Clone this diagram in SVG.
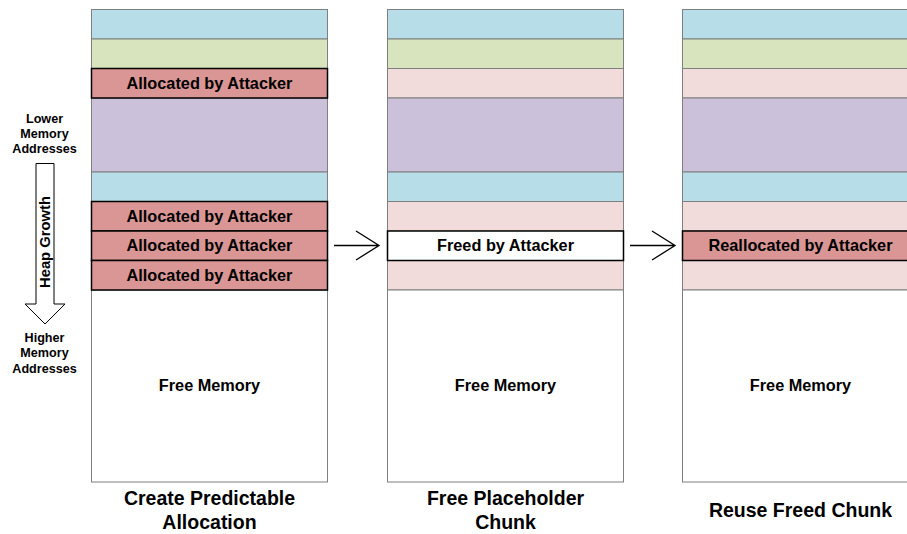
<svg xmlns="http://www.w3.org/2000/svg" width="907" height="534" viewBox="0 0 907 534">
<style>
text{font-family:"Liberation Sans",Arial,sans-serif;font-weight:bold;fill:#000;text-anchor:middle}
.c{stroke:#7f7f7f;stroke-width:1}
.a{stroke:#000;stroke-width:1.5}
.bl{fill:#b7dde8}.gr{fill:#d7e4bd}.rd{fill:#d99694}.pu{fill:#ccc1da}.pk{fill:#f2dcdb}.wh{fill:#fff}
.lbl{font-size:16.3px}
.ttl{font-size:19.5px}
.side{font-size:12.6px}
.hg{font-size:14.8px}
.conn{fill:none;stroke:#000;stroke-width:1.3}
</style>
<rect width="907" height="534" fill="#fff"/>
<g id="col1">
<rect class="c bl" x="91.5" y="9.5" width="236" height="29.5"/>
<rect class="c gr" x="91.5" y="39" width="236" height="29.5"/>
<rect class="c pu" x="91.5" y="98" width="236" height="74"/>
<rect class="c bl" x="91.5" y="172" width="236" height="29.5"/>
<rect class="c wh" x="91.5" y="290" width="236" height="192"/>
<rect class="a rd" x="91.5" y="68.5" width="236" height="29.5"/>
<rect class="a rd" x="91.5" y="201.5" width="236" height="29.5"/>
<rect class="a rd" x="91.5" y="231" width="236" height="29.5"/>
<rect class="a rd" x="91.5" y="260.5" width="236" height="29.5"/>
<text class="lbl" x="209.5" y="88.5">Allocated by Attacker</text>
<text class="lbl" x="209.5" y="221.5">Allocated by Attacker</text>
<text class="lbl" x="209.5" y="251">Allocated by Attacker</text>
<text class="lbl" x="209.5" y="280.5">Allocated by Attacker</text>
<text class="lbl" x="209.5" y="391">Free Memory</text>
<text class="ttl" x="209.5" y="505">Create Predictable</text>
<text class="ttl" x="209.5" y="529">Allocation</text>
</g>
<g id="col2">
<rect class="c bl" x="387.5" y="9.5" width="236" height="29.5"/>
<rect class="c gr" x="387.5" y="39" width="236" height="29.5"/>
<rect class="c pk" x="387.5" y="68.5" width="236" height="29.5"/>
<rect class="c pu" x="387.5" y="98" width="236" height="74"/>
<rect class="c bl" x="387.5" y="172" width="236" height="29.5"/>
<rect class="c pk" x="387.5" y="201.5" width="236" height="29.5"/>
<rect class="c pk" x="387.5" y="260.5" width="236" height="29.5"/>
<rect class="c wh" x="387.5" y="290" width="236" height="192"/>
<rect class="a wh" x="387.5" y="231" width="236" height="29.5"/>
<text class="lbl" x="505.5" y="251">Freed by Attacker</text>
<text class="lbl" x="505.5" y="391">Free Memory</text>
<text class="ttl" x="505.5" y="505">Free Placeholder</text>
<text class="ttl" x="505.5" y="529">Chunk</text>
</g>
<g id="col3">
<rect class="c bl" x="682.5" y="9.5" width="236" height="29.5"/>
<rect class="c gr" x="682.5" y="39" width="236" height="29.5"/>
<rect class="c pk" x="682.5" y="68.5" width="236" height="29.5"/>
<rect class="c pu" x="682.5" y="98" width="236" height="74"/>
<rect class="c bl" x="682.5" y="172" width="236" height="29.5"/>
<rect class="c pk" x="682.5" y="201.5" width="236" height="29.5"/>
<rect class="c pk" x="682.5" y="260.5" width="236" height="29.5"/>
<rect class="c wh" x="682.5" y="290" width="236" height="192"/>
<rect class="a rd" x="682.5" y="231" width="236" height="29.5"/>
<text class="lbl" x="800.5" y="251">Reallocated by Attacker</text>
<text class="lbl" x="800.5" y="391">Free Memory</text>
<text class="ttl" x="800.5" y="517">Reuse Freed Chunk</text>
</g>
<g id="heap-growth">
<text class="side" x="44.5" y="123">Lower</text>
<text class="side" x="44.5" y="138">Memory</text>
<text class="side" x="44.5" y="153">Addresses</text>
<path d="M36,163.5 H54 V304 H65 L45,324 L25,304 H36 Z" fill="#fff" stroke="#000" stroke-width="1"/>
<text class="hg" transform="translate(50,242) rotate(-90)" x="0" y="0">Heap Growth</text>
<text class="side" x="44.5" y="342">Higher</text>
<text class="side" x="44.5" y="357">Memory</text>
<text class="side" x="44.5" y="373">Addresses</text>
</g>
<g id="connectors">
<path class="conn" d="M334,245.5 H379 M356,231 L379,245.5 L356,260"/>
<path class="conn" d="M630,245.5 H675 M652,231 L675,245.5 L652,260"/>
</g>
</svg>
